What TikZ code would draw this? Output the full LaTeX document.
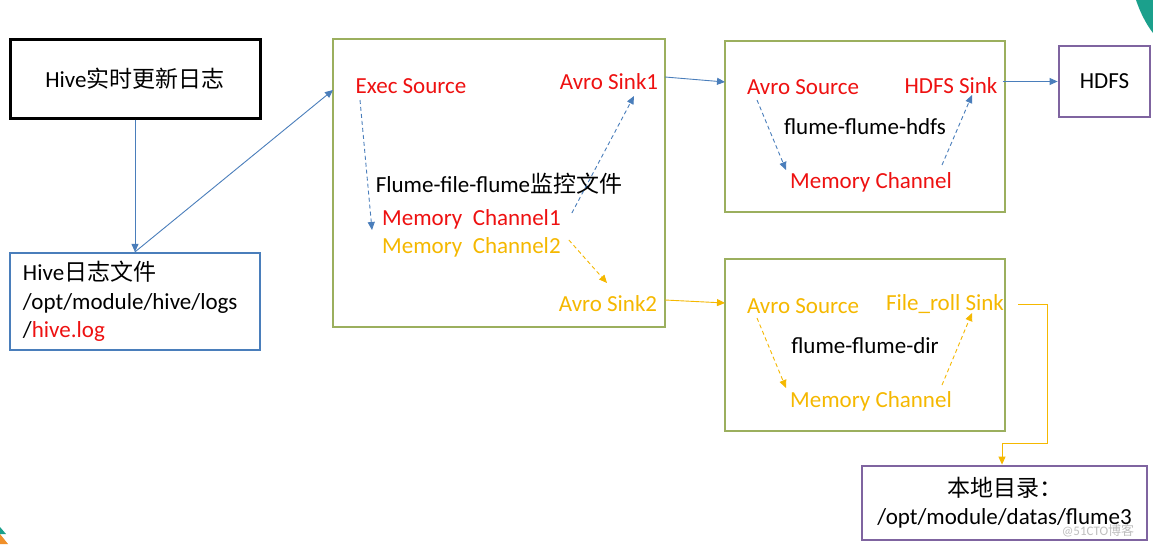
\documentclass[tikz,border=0pt]{standalone}
\usepackage{fontspec}
\setmainfont{Carlito}
\newfontfamily\cjk{Noto Sans CJK SC}
\usetikzlibrary{arrows.meta,calc}
\definecolor{fred}{HTML}{EE1111}
\definecolor{forange}{HTML}{F5B800}
\definecolor{fblue}{HTML}{4A7EBB}
\definecolor{fgreen}{HTML}{9BAF5E}
\definecolor{fpurple}{HTML}{7F64A0}
\definecolor{fteal}{HTML}{1BA08C}
\definecolor{forangedeco}{HTML}{F0902A}
\tikzset{
  txt/.style={font=\fontsize{23}{27}\selectfont, inner sep=0pt},
  greenbox/.style={draw=fgreen, line width=2.8pt},
  purplebox/.style={draw=fpurple, line width=2.8pt},
  solidarrow/.style={line width=0.9pt, -{Triangle[length=8pt,width=7pt]}},
  dasharrow/.style={line width=0.9pt, dashed, dash pattern=on 4pt off 3pt, -{Triangle[length=8pt,width=7pt]}},
}
\begin{document}
\begin{tikzpicture}[x=1pt,y=-1pt]
\useasboundingbox (0,0) rectangle (1153,544);
\fill[white] (0,0) rectangle (1153,544);
% corner decorations
\fill[fteal] (1136,0) .. controls (1140,12) and (1146,24) .. (1153,33) -- (1153,0) -- cycle;
\fill[forangedeco] (0,534) -- (8,544) -- (0,544) -- cycle;
\fill[fteal] (0,527) -- (6,534) -- (0,534) -- cycle;

% outer boxes
\node[draw=black, line width=3pt, minimum width=250pt, minimum height=79pt, txt] (hive) at (135,78.5) {Hive{\cjk 实时更新日志}};
\node[draw=fblue, line width=2.2pt, minimum width=250pt, minimum height=97pt, text width=224pt, align=left, inner sep=0pt,
      font=\fontsize{23}{28.5}\selectfont] (hivelog) at (135,301.5)
  {Hive{\cjk 日志文件}\\/opt/module/hive/logs\\/{\color{fred}hive.log}};
\node[greenbox, minimum width=332pt, minimum height=288pt] (ag1) at (499,183) {};
\node[greenbox, minimum width=280pt, minimum height=171pt] (ag2) at (865,126.5) {};
\node[greenbox, minimum width=280pt, minimum height=172pt] (ag3) at (865,345) {};
\node[purplebox, minimum width=91pt, minimum height=71pt, txt] (hdfs) at (1104.5,81.5) {HDFS};
\node[purplebox, minimum width=285pt, minimum height=74pt, align=center, inner sep=0pt,
      font=\fontsize{23}{28}\selectfont] (local) at (1004.5,503)
  {{\cjk 本地目录：}\\/opt/module/datas/flume3};

% agent 1 texts
\node[txt, text=fred] (exec) at (411,86) {Exec Source};
\node[txt, text=fred] (sink1) at (609,82) {Avro Sink1};
\node[txt] (name1) at (499,184) {Flume-file-flume{\cjk 监控文件}};
\node[txt, text=fred, anchor=west] (mc1) at (382,219) {Memory\ \ Channel1};
\node[txt, text=forange, anchor=west] (mc2) at (382,247) {Memory\ \ Channel2};
\node[txt, text=forange] (sink2) at (608,304) {Avro Sink2};

% agent 2 texts
\node[txt, text=fred] (src2) at (803,87) {Avro Source};
\node[txt, text=fred] (hsink) at (951,86) {HDFS Sink};
\node[txt] (name2) at (865,127) {flume-flume-hdfs};
\node[txt, text=fred] (mch2) at (871,182) {Memory Channel};

% agent 3 texts
\node[txt, text=forange] (src3) at (803,306) {Avro Source};
\node[txt, text=forange] (fsink) at (945,304) {File\_roll Sink};
\node[txt] (name3) at (865,346) {flume-flume-dir};
\node[txt, text=forange] (mch3) at (871,401) {Memory Channel};

% watermark
\node[inner sep=0pt, text=gray!50, font=\fontsize{13}{15}\selectfont] (wm) at (1098,531) {@51CTO{\cjk 博客}};

% solid connectors
\coordinate (ag1in) at (333,90);
\coordinate (ag2in) at (725,82);
\coordinate (ag3in) at (725,303);
\coordinate (bend) at (1047,443);
\draw[solidarrow, fblue] (hive.south) -- (hivelog.north);
\draw[solidarrow, fblue] (hivelog.north) -- (ag1in);
\draw[solidarrow, fblue] ([shift={(56,-5)}]sink1.center) -- (ag2in);
\draw[solidarrow, fblue] ([xshift=5pt]hsink.east |- hdfs.west) -- (hdfs.west);
\draw[solidarrow, forange] ([shift={(57,-4)}]sink2.center) -- (ag3in);
\draw[line width=0.9pt, forange, -{Triangle[length=8pt,width=7pt]}] ([shift={(73,0)}]fsink.center) -| (bend) -| ([xshift=-2.5pt]local.north);

% dashed connectors agent 1
\draw[dasharrow, fblue] ([shift={(-51,14)}]exec.center) -- ([shift={(-10,11)}]mc1.west);
\draw[dasharrow, fblue] ([shift={(11,-6)}]mc1.east) -- ([shift={(25,14)}]sink1.center);
\draw[dasharrow, forange] ([shift={(8,-7)}]mc2.east) -- ([shift={(-1,-21)}]sink2.center);

% dashed connectors agent 2
\draw[dasharrow, fblue] ([shift={(-46,13)}]src2.center) -- ([shift={(-85,-12)}]mch2.center);
\draw[dasharrow, fblue] ([shift={(71,-17)}]mch2.center) -- ([shift={(21,9)}]hsink.center);

% dashed connectors agent 3
\draw[dasharrow, forange] ([shift={(-46,12)}]src3.center) -- ([shift={(-85,-13)}]mch3.center);
\draw[dasharrow, forange] ([shift={(71,-16)}]mch3.center) -- ([shift={(27,9)}]fsink.center);
\end{tikzpicture}
\end{document}
